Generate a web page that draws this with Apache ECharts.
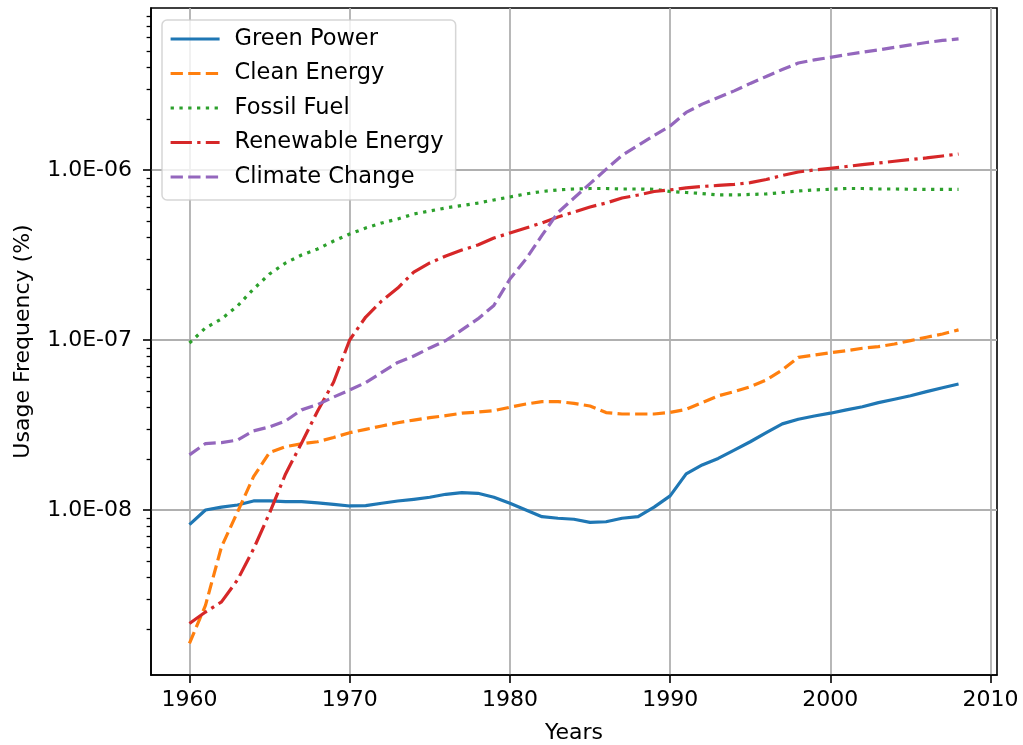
<!DOCTYPE html>
<html><head><meta charset="utf-8">
<script src="https://cdn.jsdelivr.net/npm/echarts@6/dist/echarts.min.js"></script>
<style>html,body{margin:0;padding:0;background:#fff}#c{width:1023px;height:745px}</style>
</head><body><div id="c"></div>
<script>
const years = [1960,1961,1962,1963,1964,1965,1966,1967,1968,1969,
  1970,1971,1972,1973,1974,1975,1976,1977,1978,1979,
  1980,1981,1982,1983,1984,1985,1986,1987,1988,1989,
  1990,1991,1992,1993,1994,1995,1996,1997,1998,1999,
  2000,2001,2002,2003,2004,2005,2006,2007,2008];

const greenPower = [8.2e-9,1.00e-8,1.04e-8,1.07e-8,1.13e-8,1.13e-8,1.12e-8,1.12e-8,1.10e-8,1.08e-8,
  1.056e-8,1.06e-8,1.095e-8,1.13e-8,1.156e-8,1.188e-8,1.237e-8,1.264e-8,1.254e-8,1.188e-8,
  1.095e-8,1.00e-8,9.13e-9,8.94e-9,8.82e-9,8.46e-9,8.53e-9,8.94e-9,9.13e-9,1.04e-8,
  1.21e-8,1.63e-8,1.84e-8,2.01e-8,2.25e-8,2.52e-8,2.85e-8,3.21e-8,3.42e-8,3.57e-8,
  3.71e-8,3.88e-8,4.05e-8,4.28e-8,4.48e-8,4.70e-8,4.97e-8,5.24e-8,5.51e-8];

const cleanEnergy = [1.64e-9,2.75e-9,6.08e-9,9.73e-9,1.57e-8,2.18e-8,2.36e-8,2.45e-8,2.52e-8,2.67e-8,
  2.85e-8,2.98e-8,3.12e-8,3.26e-8,3.38e-8,3.49e-8,3.59e-8,3.71e-8,3.77e-8,3.84e-8,
  4.02e-8,4.20e-8,4.34e-8,4.34e-8,4.24e-8,4.09e-8,3.74e-8,3.67e-8,3.67e-8,3.67e-8,
  3.75e-8,3.91e-8,4.28e-8,4.69e-8,4.97e-8,5.31e-8,5.82e-8,6.66e-8,7.91e-8,8.16e-8,
  8.42e-8,8.65e-8,8.94e-8,9.14e-8,9.47e-8,9.91e-8,1.038e-7,1.085e-7,1.146e-7];

const fossilFuel = [9.60e-8,1.177e-7,1.33e-7,1.585e-7,1.995e-7,2.445e-7,2.838e-7,3.162e-7,3.43e-7,3.82e-7,
  4.20e-7,4.56e-7,4.88e-7,5.15e-7,5.51e-7,5.74e-7,5.98e-7,6.18e-7,6.39e-7,6.66e-7,
  6.94e-7,7.23e-7,7.47e-7,7.63e-7,7.73e-7,7.78e-7,7.78e-7,7.73e-7,7.73e-7,7.70e-7,
  7.47e-7,7.37e-7,7.27e-7,7.13e-7,7.13e-7,7.18e-7,7.23e-7,7.37e-7,7.52e-7,7.63e-7,
  7.70e-7,7.78e-7,7.78e-7,7.73e-7,7.73e-7,7.70e-7,7.70e-7,7.70e-7,7.70e-7];

const renewableEnergy = [2.15e-9,2.51e-9,2.88e-9,3.88e-9,5.90e-9,9.60e-9,1.63e-8,2.48e-8,3.82e-8,5.66e-8,
  1.0e-7,1.365e-7,1.696e-7,2.02e-7,2.51e-7,2.84e-7,3.12e-7,3.38e-7,3.62e-7,3.98e-7,
  4.26e-7,4.56e-7,4.88e-7,5.29e-7,5.66e-7,6.06e-7,6.39e-7,6.84e-7,7.13e-7,7.47e-7,
  7.63e-7,7.84e-7,8.00e-7,8.11e-7,8.22e-7,8.42e-7,8.79e-7,9.28e-7,9.73e-7,1.0e-6,
  1.023e-6,1.048e-6,1.075e-6,1.099e-6,1.125e-6,1.153e-6,1.177e-6,1.209e-6,1.242e-6];

const climateChange = [2.11e-8,2.46e-8,2.49e-8,2.58e-8,2.92e-8,3.08e-8,3.34e-8,3.88e-8,4.17e-8,4.62e-8,
  5.08e-8,5.62e-8,6.44e-8,7.38e-8,8.05e-8,8.98e-8,9.93e-8,1.146e-7,1.33e-7,1.596e-7,
  2.285e-7,2.996e-7,4.12e-7,5.62e-7,6.84e-7,8.31e-7,1.009e-6,1.219e-6,1.395e-6,1.598e-6,
  1.815e-6,2.18e-6,2.44e-6,2.67e-6,2.92e-6,3.23e-6,3.55e-6,3.90e-6,4.26e-6,4.44e-6,
  4.60e-6,4.77e-6,4.93e-6,5.08e-6,5.26e-6,5.44e-6,5.62e-6,5.78e-6,5.90e-6];

const seriesNames = ['Green Power','Clean Energy','Fossil Fuel','Renewable Energy','Climate Change'];
const xTickValues = [1960,1970,1980,1990,2000,2010];
const yTickValues = [1e-8,1e-7,1e-6];
const yMinorTickValues = [2e-9,3e-9,4e-9,5e-9,6e-9,7e-9,8e-9,9e-9,
  2e-8,3e-8,4e-8,5e-8,6e-8,7e-8,8e-8,9e-8,
  2e-7,3e-7,4e-7,5e-7,6e-7,7e-7,8e-7,9e-7,
  2e-6,3e-6,4e-6,5e-6,6e-6,7e-6,8e-6];

const FONT = 'DejaVu Sans';
const colors = ['#1f77b4','#ff7f0e','#2ca02c','#d62728','#9467bd'];
const dashes = ['solid',[12.3,5.3],[3.3,5.5],[21.3,5.3,3.3,5.3],[12.3,5.3]];
const values = [greenPower, cleanEnergy, fossilFuel, renewableEnergy, climateChange];

function fmtSci(v){
  let s = Number(v).toExponential(1).toUpperCase();
  return s.replace(/E([+-])(\d)$/, 'E$10$2');
}

const chart = echarts.init(document.getElementById('c'), null, {renderer:'canvas'});
const option = {
  animation: false,
  backgroundColor: '#ffffff',
  textStyle: {fontFamily: FONT},
  grid: {left:151, right:26, top:8, bottom:70, show:true, borderColor:'#000', borderWidth:1.6,
         backgroundColor:'transparent', outerBoundsMode:'none'},
  legend: {
    orient:'vertical', left:162, top:20, padding:[7,12,11,7],
    itemWidth:49, itemHeight:24, itemGap:10.5,
    backgroundColor:'rgba(255,255,255,0.8)', borderColor:'rgba(204,204,204,0.8)', borderWidth:1.5, borderRadius:5,
    textStyle:{fontSize:22.5, color:'#000', lineHeight:24, padding:[0,0,0,10], fontFamily:FONT},
    itemStyle:{opacity:0}, lineStyle:{width:3.2},
    data: seriesNames
  },
  xAxis: {
    type:'value', min:1957.6, max:2010.4,
    name:'Years', nameLocation:'middle', nameGap:47,
    nameTextStyle:{fontSize:22, color:'#000', fontFamily:FONT},
    axisLine:{show:true, lineStyle:{color:'#000', width:1.6}},
    axisTick:{show:true, length:8, lineStyle:{color:'#000', width:1.6}, customValues:xTickValues},
    axisLabel:{customValues:xTickValues, fontSize:22, color:'#000', margin:14, fontFamily:FONT,
               formatter: v => String(Math.round(v))},
    splitLine:{show:true, lineStyle:{color:'#b0b0b0', width:1.8}}
  },
  yAxis: [{
    type:'log', logBase:10, min:1.07e-9, max:8.97e-6, position:'left',
    name:'Usage Frequency (%)', nameLocation:'middle', nameGap:117,
    nameTextStyle:{fontSize:22, color:'#000', fontFamily:FONT},
    axisLine:{show:true, lineStyle:{color:'#000', width:1.6}},
    axisTick:{show:true, length:8, lineStyle:{color:'#000', width:1.6}, customValues:yTickValues},
    axisLabel:{customValues:yTickValues, fontSize:22, color:'#000', margin:19, fontFamily:FONT,
               formatter: v => fmtSci(v)},
    splitLine:{show:true, lineStyle:{color:'#b0b0b0', width:1.8}},
    minorTick:{show:false}
  },{
    type:'log', logBase:10, min:1.07e-9, max:8.97e-6, position:'left', offset:0,
    axisLine:{show:false},
    axisTick:{show:true, length:4.4, lineStyle:{color:'#000', width:1.3}, customValues:yMinorTickValues},
    axisLabel:{show:false},
    splitLine:{show:false}
  }],
  series: seriesNames.map((n,i) => ({
    name:n, type:'line', yAxisIndex:0, symbol:'none', showSymbol:false,
    data: years.map((y,j) => [y, values[i][j]]),
    lineStyle:{color:colors[i], width:3.2, type:dashes[i], cap:'butt', join:'round'},
    itemStyle:{color:colors[i]},
    emphasis:{disabled:true}
  }))
};
chart.setOption(option);
</script></body></html>
